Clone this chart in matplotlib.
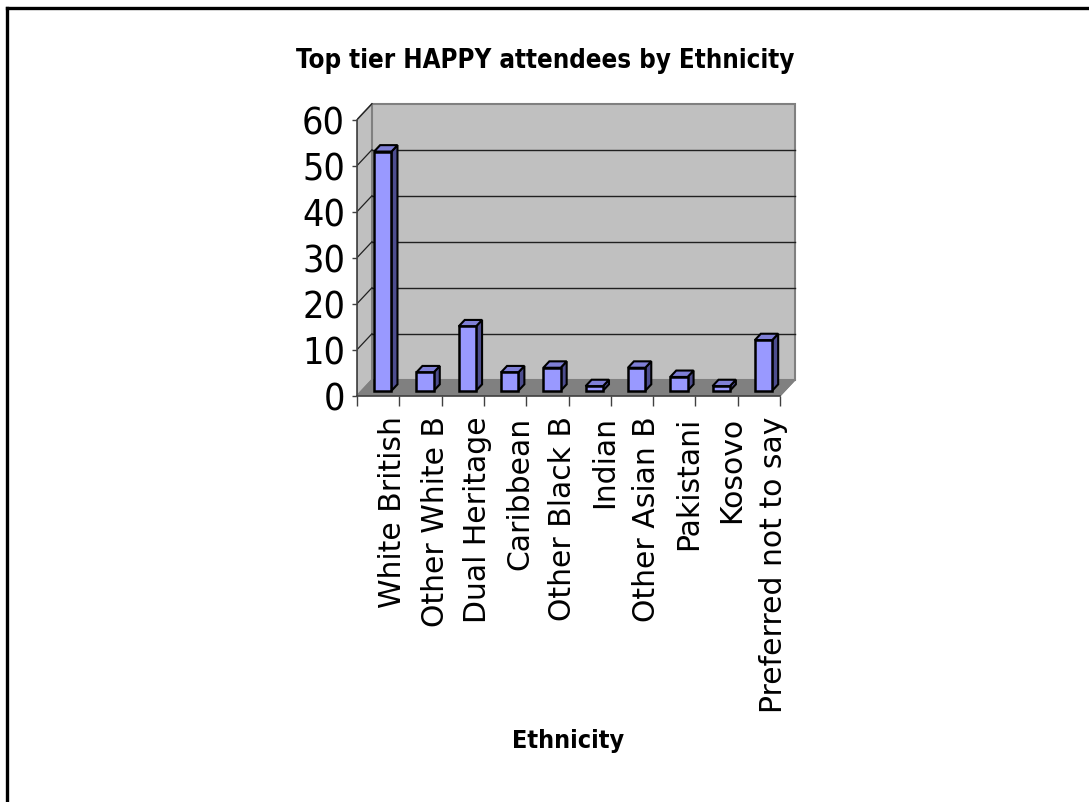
import numpy as np
import matplotlib.pyplot as plt
from matplotlib import font_manager as fm
from matplotlib.patches import Polygon, Rectangle
from matplotlib.lines import Line2D

categories = ["White British", "Other White B", "Dual Heritage", "Caribbean",
              "Other Black B", "Indian", "Other Asian B", "Pakistani",
              "Kosovo", "Preferred not to say"]
values = [52, 4, 14, 4, 5, 1, 5, 3, 1, 11]
yticks = [0, 10, 20, 30, 40, 50, 60]

title = "Top tier HAPPY attendees by Ethnicity"
xlabel = "Ethnicity"


def find_narrow(bold):
    # look for any condensed / narrow sans face that happens to be installed
    best = None
    for f in fm.fontManager.ttflist:
        nm = f.name.lower()
        narrowish = ("narrow" in nm or "condensed" in nm
                     or f.stretch in ("condensed", "semi-condensed", "extra-condensed")
                     or "condensed" in f.fname.lower() or "narrow" in f.fname.lower())
        if not narrowish or "mono" in nm or "serif" in nm:
            continue
        w = f.weight if isinstance(f.weight, int) else (700 if "bold" in str(f.weight) else 400)
        if (w >= 600) != bold or "italic" in f.style or "oblique" in f.style:
            continue
        rank = 0 if "liberation" in nm else 1
        if best is None or rank < best[0]:
            best = (rank, f.fname)
    return fm.FontProperties(fname=best[1]) if best else None


narrow_reg = find_narrow(False)
narrow_bold = find_narrow(True)

W, H = 1089, 803
fig = plt.figure(figsize=(W / 100, H / 100), dpi=100)
fig.patch.set_facecolor("white")

# pixel geometry of the front plane
x0_px, y0_px = 357, 396.7
px_cat, px_unit = 42.3, 4.6
xmax, ymax = 10.5, 64
ax = fig.add_axes([x0_px / W, (H - y0_px) / H,
                   xmax * px_cat / W, ymax * px_unit / H])
ax.set_xlim(0, xmax)
ax.set_ylim(0, ymax)
ax.patch.set_alpha(0)

n = len(categories)
top = yticks[-1]
DX = 15 / px_cat   # depth offset in data units
DY = 16 / px_unit

# side wall, back wall, floor
ax.add_patch(Polygon([(0, 0), (DX, DY), (DX, top + DY), (0, top)],
                     facecolor="#c0c0c0", edgecolor="#808080", lw=1.2, zorder=1))
ax.add_patch(Polygon([(DX, DY), (n + DX, DY), (n + DX, top + DY), (DX, top + DY)],
                     facecolor="#c0c0c0", edgecolor="#808080", lw=1.5, zorder=1))
ax.add_patch(Polygon([(0, 0), (n, 0), (n + DX, DY), (DX, DY)],
                     facecolor="#808080", edgecolor="#808080", lw=1, zorder=2))

# gridlines on back wall and side wall
for v in yticks[1:-1]:
    ax.plot([DX, n + DX], [v + DY, v + DY], color="#202020", lw=1, zorder=2)
for v in yticks[1:]:
    ax.plot([0, DX], [v, v + DY], color="#202020", lw=0.9, zorder=2)
ax.plot([n, n + DX], [0, DY], color="#808080", lw=1.2, zorder=2)

# bars
f0, f1 = 0.31, 0.71
bw = 0.41
ddx, ddy = (f1 - f0) * DX, (f1 - f0) * DY
for i, v in enumerate(values):
    bx = i + 0.5 - bw / 2 + f0 * DX
    by = f0 * DY
    ax.add_patch(Polygon([(bx + bw, by), (bx + bw + ddx, by + ddy),
                          (bx + bw + ddx, by + v + ddy), (bx + bw, by + v)],
                         facecolor="#4d4d8f", edgecolor="black", lw=1.5, zorder=3))
    ax.add_patch(Polygon([(bx, by + v), (bx + bw, by + v),
                          (bx + bw + ddx, by + v + ddy), (bx + ddx, by + v + ddy)],
                         facecolor="#7f7fd6", edgecolor="black", lw=1.5, zorder=3))
    ax.add_patch(Rectangle((bx, by), bw, v, facecolor="#9999ff",
                           edgecolor="black", lw=1.8, zorder=4))

# axes lines and ticks
for s in ["top", "right"]:
    ax.spines[s].set_visible(False)
ax.spines["left"].set_bounds(0, top)
ax.spines["bottom"].set_bounds(0, n)
for s in ["left", "bottom"]:
    ax.spines[s].set_color("#404040")
    ax.spines[s].set_linewidth(1.2)
ax.set_xticks(np.arange(n + 1))
ax.set_xticklabels([])
ax.tick_params(axis="x", length=7, width=1, color="#404040", direction="out")
ax.set_yticks(yticks)
if narrow_reg is not None:
    ax.set_yticklabels([str(t) for t in yticks], fontproperties=narrow_reg, fontsize=27)
else:
    ax.set_yticklabels([str(t) for t in yticks], fontsize=22)
ax.tick_params(axis="y", length=3.6, width=1, color="#404040", direction="out", pad=5)

# category labels, rotated
for i, c in enumerate(categories):
    ax.text(i + 1.05, -4.3, c, rotation=90, rotation_mode="anchor",
            ha="right", va="baseline", fontsize=21.5, family="DejaVu Sans")

if narrow_bold is not None:
    fig.text(545 / W, 1 - 68 / H, title, ha="center", va="baseline",
             fontproperties=narrow_bold, fontsize=18.5)
    fig.text(568 / W, 1 - 748 / H, xlabel, ha="center", va="baseline",
             fontproperties=narrow_bold, fontsize=18)
else:
    fig.text(545 / W, 1 - 68 / H, title, ha="center", va="baseline",
             fontsize=15.5, fontweight="bold")
    fig.text(568 / W, 1 - 748 / H, xlabel, ha="center", va="baseline",
             fontsize=15.5, fontweight="bold")

# outer frame (top and left edges)
fig.add_artist(Line2D([7 / W, 1], [1 - 9 / H, 1 - 9 / H], color="black", lw=2.4))
fig.add_artist(Line2D([7 / W, 7 / W], [1 - 9 / H, 0], color="black", lw=2.4))

fig.savefig("out.png", dpi=100)
